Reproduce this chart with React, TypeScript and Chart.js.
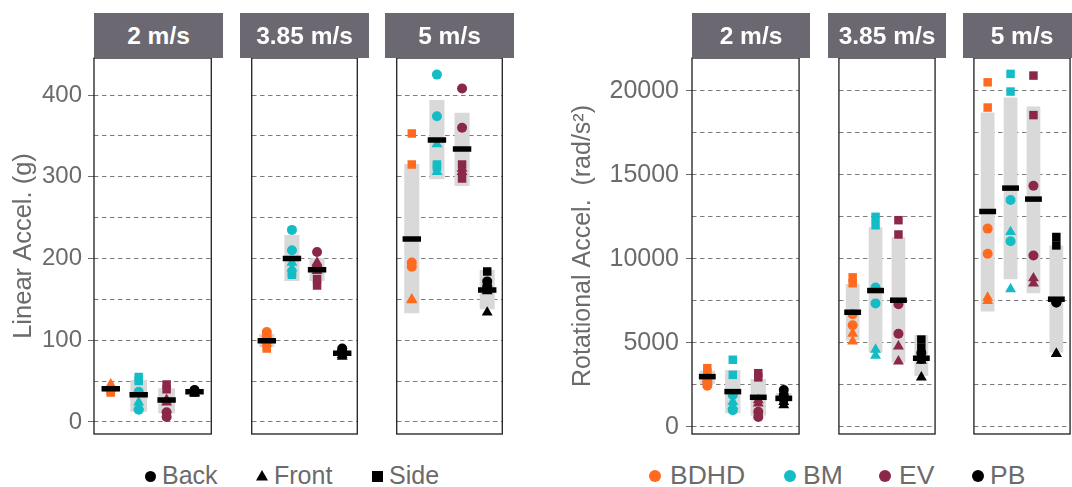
import React, { useEffect, useRef } from 'react';
import { Chart, registerables } from 'chart.js';

Chart.register(...registerables);

// ---------- categories ----------
const groups = ['BDHD', 'BM', 'EV', 'PB'];
const speeds = ['2 m/s', '3.85 m/s', '5 m/s'];
const locations = ['Back', 'Front', 'Side'];
const groupColors = ['#FF6A1F', '#14BDC5', '#8B2747', '#000000'];

// ---------- tick labels ----------
const linTicks = [0, 100, 200, 300, 400];
const rotTicks = [0, 5000, 10000, 15000, 20000];
const linTitle = 'Linear Accel. (g)';
const rotTitle = 'Rotational Accel.  (rad/s\u00B2)';

// ---------- Linear acceleration (g): [speed][group] ----------
const linMean = [
  [40.6, 33.4, 26.9, 37],
  [99.5, 200, 186.3, 84],
  [224, 345, 334, 161.5],
];
const linLow = [
  [37, 12.6, 10.6, 35],
  [91.7, 172.5, 172.5, 81.5],
  [133, 297, 288.7, 137.8],
];
const linHigh = [
  [44, 51.4, 41.2, 39],
  [107.6, 228.7, 200.2, 87.5],
  [315.6, 394, 378.4, 186],
];
const linBack = [
  [[41, 39], [37, 15], [12, 6], [39, 38]],
  [[110, 105], [235, 210], [208, 190], [90, 87]],
  [[195, 190], [425, 374], [408, 360], [172, 166]],
];
const linFront = [
  [[46, 44], [24, 19], [27, 24], [36, 35]],
  [[100, 96], [195, 188], [195, 185], [82, 80]],
  [[150, 149], [340, 306], [310, 306], [160, 134]],
];
const linSide = [
  [[36, 38], [55, 50], [46, 40], [37, 36]],
  [[92, 90], [183, 180], [175, 167], [85, 84]],
  [[353, 315], [315, 312], [315, 298], [184, 163]],
];

// ---------- Rotational acceleration (rad/s^2): [speed][group] ----------
const rotMean = [
  [2996, 2103, 1766, 1706],
  [6825, 8115, 7540, 4089],
  [12817, 14208, 13554, 7600],
];
const rotLow = [
  [2550, 815, 673, 1490],
  [5137, 4424, 3830, 3036],
  [6865, 8790, 7958, 4424],
];
const rotHigh = [
  [3350, 3390, 2857, 2020],
  [8510, 11886, 11290, 5476],
  [18710, 19603, 19068, 10790],
];
const rotBack = [
  [[2650, 2450], [1900, 1000], [900, 600], [2200, 1900]],
  [[6700, 6050], [8300, 7350], [7300, 5550], [4400, 4050]],
  [[11800, 10300], [13500, 11050], [14350, 10200], [7400, 7400]],
];
const rotFront = [
  [[3000, 2850], [1500, 1250], [1600, 1400], [1500, 1300]],
  [[5550, 5100], [4600, 4250], [4800, 3900], [3950, 2950]],
  [[7700, 7500], [11600, 8200], [8850, 8550], [4350, 4350]],
];
const rotSide = [
  [[3500, 3250], [4000, 3100], [3200, 2950], [1750, 1700]],
  [[8900, 8550], [12500, 12000], [12300, 11450], [5200, 4700]],
  [[20500, 19000], [21000, 19950], [20900, 18550], [11300, 10800]],
];

// ---------- styles ----------
const FONT = "'Liberation Sans', Arial, Helvetica, sans-serif";
const TEXT_GREY = '#6b6b6b';
const STRIP_BG = '#6b6871';
const BOX_GREY = '#D9D9D9';
const GRID_GREY = '#7c7c7c';
const shapeFor = ['circle', 'triangle', 'rect'];
const radiusFor = [5, 6.3, 6];

const PANEL_TOP = 58;
const PANEL_BOTTOM = 434;
const PAD_Y = 24;
const PAD_X = 3;

const framePlugin = {
  id: 'facetFrame',
  afterDraw(chart: any) {
    const { ctx, chartArea } = chart;
    const { left, top, right, bottom } = chartArea;
    ctx.save();
    ctx.strokeStyle = '#1e1e1e';
    ctx.lineWidth = 1.3;
    ctx.strokeRect(left, top, right - left, bottom - top);
    ctx.restore();
  },
};

type FacetProps = {
  left: number;
  width: number;
  axisWidth: number;
  yMin: number;
  yMax: number;
  step: number;
  labels: number[];
  mean: number[];
  low: number[];
  high: number[];
  back: number[][];
  front: number[][];
  side: number[][];
  axisTitle?: string;
  tickFont: number;
  titleFont: number;
  titlePad: number;
  labelPad: number;
};

function Facet(p: FacetProps) {
  const ref = useRef<HTMLCanvasElement>(null);
  const hasAxis = p.axisWidth > 0;
  const canvasW = (hasAxis ? p.axisWidth : PAD_X) + p.width + PAD_X;
  const canvasH = PANEL_BOTTOM - PANEL_TOP + 2 * PAD_Y;
  const canvasLeft = hasAxis ? p.left - p.axisWidth : p.left - PAD_X;

  useEffect(() => {
    if (!ref.current) return;
    const pts = [p.back, p.front, p.side];
    const datasets: any[] = [];
    datasets.push({
      type: 'bar',
      data: groups.map((g, i) => ({ x: i + 1, y: [p.low[i], p.high[i]] })),
      backgroundColor: BOX_GREY,
      borderWidth: 0,
      barPercentage: 0.6,
      categoryPercentage: 1,
      grouped: false,
      order: 3,
    });
    locations.forEach((loc, li) => {
      groups.forEach((g, gi) => {
        datasets.push({
          type: 'scatter',
          label: g + ' ' + loc,
          data: pts[li][gi].map((v) => ({ x: gi + 1, y: v })),
          pointStyle: shapeFor[li],
          pointRadius: radiusFor[li],
          pointBackgroundColor: groupColors[gi],
          pointBorderWidth: 0,
          order: 2,
        });
      });
    });
    const barHalf = (p.width / 4.2) * 0.3;
    datasets.push({
      type: 'scatter',
      label: 'mean',
      data: p.mean.map((m, i) => ({ x: i + 1, y: m })),
      pointStyle: 'line',
      pointRadius: barHalf,
      pointBorderColor: '#000000',
      pointBorderWidth: 5.5,
      order: 1,
    });

    // grid values: every half label step, from the first label up to the top of the range
    const gridValues: number[] = [];
    for (let v = p.labels[0]; v <= p.yMax; v += p.step) gridValues.push(v);

    const chart = new Chart(ref.current, {
      type: 'bar',
      data: { datasets },
      options: {
        responsive: false,
        animation: false,
        events: [],
        layout: {
          padding: {
            left: hasAxis ? 0 : PAD_X,
            right: PAD_X,
            top: PAD_Y,
            bottom: PAD_Y,
          },
        },
        plugins: {
          legend: { display: false },
          tooltip: { enabled: false },
        },
        scales: {
          x: {
            type: 'linear',
            min: 0.4,
            max: 4.6,
            display: false,
            offset: false,
            grid: { display: false, offset: false },
            ticks: { stepSize: 1, includeBounds: false },
          },
          y: {
            type: 'linear',
            min: p.yMin,
            max: p.yMax,
            afterBuildTicks: (s: any) => {
              s.ticks = gridValues.map((v) => ({ value: v }));
            },
            afterFit: (s: any) => {
              s.width = p.axisWidth;
            },
            ticks: {
              display: hasAxis,
              autoSkip: false,
              padding: p.labelPad,
              color: TEXT_GREY,
              font: { family: FONT, size: p.tickFont },
              callback: (v: any) => (p.labels.includes(Number(v)) ? String(v) : ''),
            },
            grid: {
              color: GRID_GREY,
              lineWidth: 1,
              drawTicks: hasAxis,
              tickLength: 6,
              tickWidth: 1,
              tickColor: (c: any) =>
                c.tick && p.labels.includes(c.tick.value) ? TEXT_GREY : 'rgba(0,0,0,0)',
            },
            border: { display: false, dash: [4.5, 3.5] },
            title: {
              display: hasAxis && !!p.axisTitle,
              text: p.axisTitle || '',
              color: TEXT_GREY,
              font: { family: FONT, size: p.titleFont },
              padding: { top: p.titlePad, bottom: 0 },
            },
          },
        },
      } as any,
      plugins: [framePlugin],
    });
    return () => chart.destroy();
  }, []);

  return (
    <canvas
      ref={ref}
      width={canvasW}
      height={canvasH}
      style={{
        position: 'absolute',
        left: canvasLeft,
        top: PANEL_TOP - PAD_Y,
        width: canvasW,
        height: canvasH,
      }}
    />
  );
}

function Strip({ left, width, text }: { left: number; width: number; text: string }) {
  return (
    <div
      style={{
        position: 'absolute',
        left,
        top: 13,
        width,
        height: PANEL_TOP - 13,
        background: STRIP_BG,
        color: '#ffffff',
        fontFamily: FONT,
        fontWeight: 'bold',
        fontSize: 24.5,
        lineHeight: PANEL_TOP - 13 + 'px',
        textAlign: 'center',
        zIndex: 2,
      }}
    >
      {text}
    </div>
  );
}

function Symbol({ shape, color, cx, cy, size }: { shape: string; color: string; cx: number; cy: number; size: number }) {
  const s = size;
  return (
    <svg
      width={s + 2}
      height={s + 2}
      style={{ position: 'absolute', left: cx - s / 2 - 1, top: cy - s / 2 - 1 }}
    >
      {shape === 'circle' && <circle cx={s / 2 + 1} cy={s / 2 + 1} r={s / 2} fill={color} />}
      {shape === 'triangle' && (
        <polygon
          points={`${s / 2 + 1},${1} ${s + 1},${s * 0.87 + 1} ${1},${s * 0.87 + 1}`}
          fill={color}
        />
      )}
      {shape === 'rect' && <rect x={1} y={1} width={s} height={s} fill={color} />}
    </svg>
  );
}

function LegendItem({ cx, textLeft, label, shape, color, size, fontSize }: any) {
  return (
    <>
      <Symbol shape={shape} color={color} cx={cx} cy={476} size={size} />
      <div
        style={{
          position: 'absolute',
          left: textLeft,
          top: 460,
          fontFamily: FONT,
          fontSize,
          lineHeight: '30px',
          color: TEXT_GREY,
          whiteSpace: 'nowrap',
        }}
      >
        {label}
      </div>
    </>
  );
}

export default function App() {
  const linLefts = [94, 240, 385];
  const linWidth = 129;
  const rotLefts = [692, 828, 963];
  const rotWidth = 118;

  const linSymX = [150, 262, 377];
  const linTextX = [162, 274, 389];
  const rotSymX = [655, 790, 885, 978];
  const rotTextX = [670, 803, 899, 990];

  return (
    <div
      style={{
        position: 'absolute',
        left: 0,
        top: 0,
        width: 1072,
        height: 487,
        overflow: 'hidden',
        background: '#ffffff',
      }}
    >
      {speeds.map((s, si) => (
        <Facet
          key={'lin' + si}
          left={linLefts[si]}
          width={linWidth}
          axisWidth={si === 0 ? linLefts[0] : 0}
          yMin={-14.7}
          yMax={445.3}
          step={50}
          labels={linTicks}
          mean={linMean[si]}
          low={linLow[si]}
          high={linHigh[si]}
          back={linBack[si]}
          front={linFront[si]}
          side={linSide[si]}
          axisTitle={linTitle}
          tickFont={24}
          titleFont={25.5}
          titlePad={8.7}
          labelPad={6}
        />
      ))}
      {speeds.map((s, si) => (
        <Facet
          key={'rot' + si}
          left={rotLefts[si]}
          width={rotWidth}
          axisWidth={si === 0 ? rotLefts[0] - 560 : 0}
          yMin={-417}
          yMax={21946}
          step={2500}
          labels={rotTicks}
          mean={rotMean[si]}
          low={rotLow[si]}
          high={rotHigh[si]}
          back={rotBack[si]}
          front={rotFront[si]}
          side={rotSide[si]}
          axisTitle={rotTitle}
          tickFont={25}
          titleFont={25}
          titlePad={8}
          labelPad={7}
        />
      ))}
      {speeds.map((s, si) => (
        <Strip key={'ls' + si} left={linLefts[si]} width={linWidth} text={s} />
      ))}
      {speeds.map((s, si) => (
        <Strip key={'rs' + si} left={rotLefts[si]} width={rotWidth} text={s} />
      ))}
      {locations.map((loc, li) => (
        <LegendItem
          key={'ll' + li}
          cx={linSymX[li]}
          textLeft={linTextX[li]}
          label={loc}
          shape={shapeFor[li]}
          color="#000000"
          size={li === 1 ? 12 : 11}
          fontSize={25}
        />
      ))}
      {groups.map((g, gi) => (
        <LegendItem
          key={'rl' + gi}
          cx={rotSymX[gi]}
          textLeft={rotTextX[gi]}
          label={g}
          shape="circle"
          color={groupColors[gi]}
          size={12}
          fontSize={26.5}
        />
      ))}
    </div>
  );
}
